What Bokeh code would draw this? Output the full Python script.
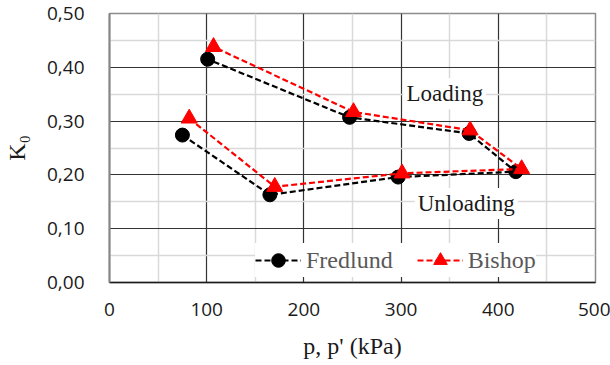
from bokeh.plotting import figure
from bokeh.models import Range1d, FixedTicker, ColumnDataSource, Legend
from bokeh.core.properties import value
from bokeh.embed import file_html
from bokeh.resources import INLINE

# ---- data ----
fredlund_p = [75, 165, 297, 418, 370, 247, 101]
fredlund_k = [0.274, 0.163, 0.196, 0.206, 0.277, 0.307, 0.415]
bishop_p = [82, 170, 301, 424, 371, 251, 107]
bishop_k = [0.305, 0.178, 0.203, 0.211, 0.283, 0.317, 0.438]

x_ticks = [0, 100, 200, 300, 400, 500]
x_tick_labels = ["0", "100", "200", "300", "400", "500"]
y_ticks = [0.0, 0.1, 0.2, 0.3, 0.4, 0.5]
y_tick_labels = ["0,00", "0,10", "0,20", "0,30", "0,40", "0,50"]
x_minor = [50, 150, 250, 350, 450]
y_minor = [0.05, 0.15, 0.25, 0.35, 0.45]

label_texts = ["Loading", "Unloading"]
label_x = [345, 367]
label_y = [0.351, 0.147]

serif = "Liberation Serif"
sans = "Open Sans"

p = figure(width=610, height=365, output_backend="svg", toolbar_location=None,
           x_range=Range1d(0, 500), y_range=Range1d(0, 0.5),
           min_border_left=107, min_border_right=15, min_border_top=13,
           min_border_bottom=83)
p.background_fill_color = "white"
p.border_fill_color = "white"
p.outline_line_color = "#8c8c8c"
p.outline_line_width = 1.5

# axes
p.xaxis.ticker = FixedTicker(ticks=x_ticks, minor_ticks=x_minor)
p.yaxis.ticker = FixedTicker(ticks=y_ticks, minor_ticks=y_minor)
p.xaxis.major_label_overrides = {t: s for t, s in zip(x_ticks, x_tick_labels)}
p.yaxis.major_label_overrides = {t: s for t, s in zip(y_ticks, y_tick_labels)}
for ax in (p.xaxis[0], p.yaxis[0]):
    ax.major_tick_line_color = None
    ax.minor_tick_line_color = None
    ax.major_label_text_font = sans
    ax.major_label_text_font_size = "19px"
    ax.major_label_text_color = "#1a1a1a"
    ax.axis_label_text_font = serif
    ax.axis_label_text_font_size = "24px"
    ax.axis_label_text_font_style = "normal"
    ax.axis_label_text_color = "#1a1a1a"
p.xaxis.axis_label = "p, p' (kPa)"
p.yaxis.axis_label = "K\u2080"
p.xaxis.major_label_standoff = 14
p.yaxis.major_label_standoff = 19
p.xaxis.axis_label_standoff = 14
p.yaxis.axis_label_standoff = 14
p.xaxis.axis_line_color = "#1a1a1a"
p.xaxis.axis_line_width = 1.5
p.yaxis.axis_line_color = "#868686"
p.yaxis.axis_line_width = 2

# grids
p.xgrid.ticker = FixedTicker(ticks=x_ticks[1:-1], minor_ticks=x_minor)
p.ygrid.ticker = FixedTicker(ticks=y_ticks[1:-1], minor_ticks=y_minor)
for g in (p.xgrid[0], p.ygrid[0]):
    g.grid_line_color = "#333333"
    g.grid_line_width = 1.2
    g.minor_grid_line_color = "#d9d9d9"
    g.minor_grid_line_width = 1.5

# series
src_f = ColumnDataSource(dict(x=fredlund_p, y=fredlund_k))
src_b = ColumnDataSource(dict(x=bishop_p, y=bishop_k))

lf = p.line("x", "y", source=src_f, line_color="black", line_width=2.2, line_dash="6 3")
mf = p.scatter("x", "y", source=src_f, marker="circle", size=14,
               fill_color="black", line_color="black")
lb = p.line("x", "y", source=src_b, line_color="#ff0000", line_width=2.2, line_dash="6 3")
mb = p.scatter("x", "y", source=src_b, marker="triangle", size=16,
               fill_color="#ff0000", line_color="#ff0000")

# text labels
src_l = ColumnDataSource(dict(x=label_x, y=label_y, t=label_texts))
p.text("x", "y", text="t", source=src_l, text_font=value(serif),
       text_font_size="23px", text_color="#1a1a1a", text_align="center",
       text_baseline="middle", background_fill_color="white", padding=3)

legend = Legend(items=[("Fredlund", [lf, mf]), ("Bishop", [lb, mb])],
                location=(146, 5), orientation="horizontal",
                label_text_font=serif, label_text_font_size="24px",
                label_text_color="#595959", glyph_width=46, glyph_height=34,
                label_standoff=5, spacing=24, padding=7, margin=0,
                border_line_color=None, background_fill_color="white",
                background_fill_alpha=1.0)
p.add_layout(legend, "center")

open("out.html", "w").write(file_html(p, INLINE))
